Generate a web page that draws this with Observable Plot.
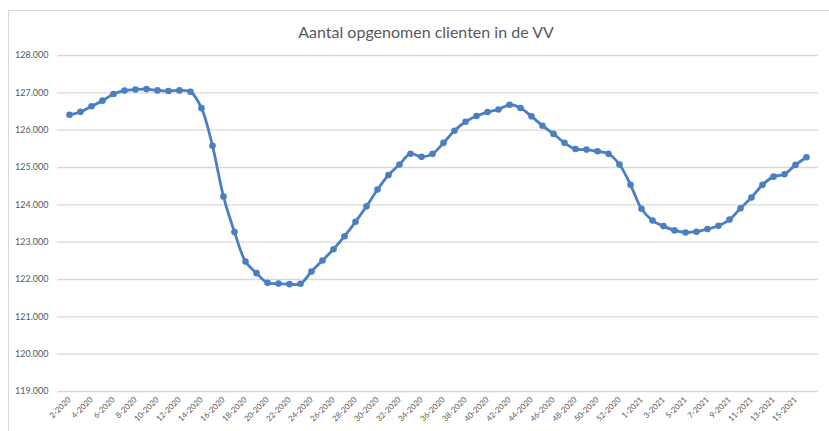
<!DOCTYPE html>
<html>
<head>
<meta charset="utf-8">
<script src="https://cdn.jsdelivr.net/npm/d3@7"></script>
<script src="https://cdn.jsdelivr.net/npm/@observablehq/plot@0.6"></script>
<style>
  html, body { margin: 0; padding: 0; background: #fff; }
  #wrap { position: relative; width: 829px; height: 431px; overflow: hidden; font-family: Lato, "Open Sans", sans-serif; }
  #frame { position: absolute; left: 8px; top: 10px; width: 840px; height: 440px; border-left: 1px solid #d9d9d9; border-top: 1px solid #d9d9d9; box-sizing: border-box; }
  #title { position: absolute; top: 22px; left: 0; width: 852px; text-align: center; font-size: 16px; color: #595959; }
  #chart { position: absolute; left: 0; top: 0; }
</style>
</head>
<body>
<div id="wrap">
  <div id="frame"></div>
  <div id="chart"></div>
  <div id="title">Aantal opgenomen clienten in de VV</div>
</div>
<script>
const weeks = [
  "2-2020","3-2020","4-2020","5-2020","6-2020","7-2020","8-2020","9-2020","10-2020","11-2020",
  "12-2020","13-2020","14-2020","15-2020","16-2020","17-2020","18-2020","19-2020","20-2020","21-2020",
  "22-2020","23-2020","24-2020","25-2020","26-2020","27-2020","28-2020","29-2020","30-2020","31-2020",
  "32-2020","33-2020","34-2020","35-2020","36-2020","37-2020","38-2020","39-2020","40-2020","41-2020",
  "42-2020","43-2020","44-2020","45-2020","46-2020","47-2020","48-2020","49-2020","50-2020","51-2020",
  "52-2020","53-2020","1-2021","2-2021","3-2021","4-2021","5-2021","6-2021","7-2021","8-2021",
  "9-2021","10-2021","11-2021","12-2021","13-2021","14-2021","15-2021","16-2021"
];
const clients = [
  126410,126490,126640,126790,126970,127060,127090,127100,127065,127050,
  127065,127030,126590,125580,124220,123270,122480,122170,121910,121890,
  121875,121885,122215,122510,122810,123160,123545,123960,124410,124800,
  125080,125370,125285,125365,125660,125985,126225,126380,126485,126555,
  126680,126595,126370,126120,125900,125660,125495,125480,125435,125365,
  125080,124535,123895,123580,123430,123315,123260,123280,123350,123440,
  123605,123910,124195,124535,124755,124820,125070,125275
];
const xTickLabels = [
  "2-2020","4-2020","6-2020","8-2020","10-2020","12-2020","14-2020","16-2020","18-2020","20-2020",
  "22-2020","24-2020","26-2020","28-2020","30-2020","32-2020","34-2020","36-2020","38-2020","40-2020",
  "42-2020","44-2020","46-2020","48-2020","50-2020","52-2020","1-2021","3-2021","5-2021","7-2021",
  "9-2021","11-2021","13-2021","15-2021"
];
const yTicks = [119000,120000,121000,122000,123000,124000,125000,126000,127000,128000];

const data = weeks.map((w, i) => ({week: w, value: clients[i]}));
const fmt = d => d3.format(",")(d).replace(/,/g, ".");

const chart = Plot.plot({
  width: 829,
  height: 431,
  marginLeft: 57,
  marginRight: 11,
  marginTop: 55,
  marginBottom: 40,
  style: {fontFamily: "Lato, 'Open Sans', sans-serif", background: "transparent"},
  x: {type: "point", domain: weeks, padding: 0},
  y: {domain: [119000, 128000]},
  marks: [
    Plot.ruleY(yTicks, {stroke: "#d9d9d9", strokeWidth: 1.3}),
    Plot.axisY({ticks: yTicks, tickFormat: fmt, tickSize: 0, tickPadding: 9, fontSize: 9, fill: "#595959", label: null}),
    Plot.axisX({ticks: xTickLabels, tickSize: 0, tickPadding: 7, tickRotate: -45, fontSize: 8, fill: "#595959", label: null}),
    Plot.line(data, {x: "week", y: "value", stroke: "#4a7fc1", strokeWidth: 2.8, curve: "catmull-rom"}),
    Plot.dot(data, {x: "week", y: "value", fill: "#4a7fc1", r: 3.3})
  ]
});
document.getElementById("chart").appendChild(chart);
</script>
</body>
</html>
